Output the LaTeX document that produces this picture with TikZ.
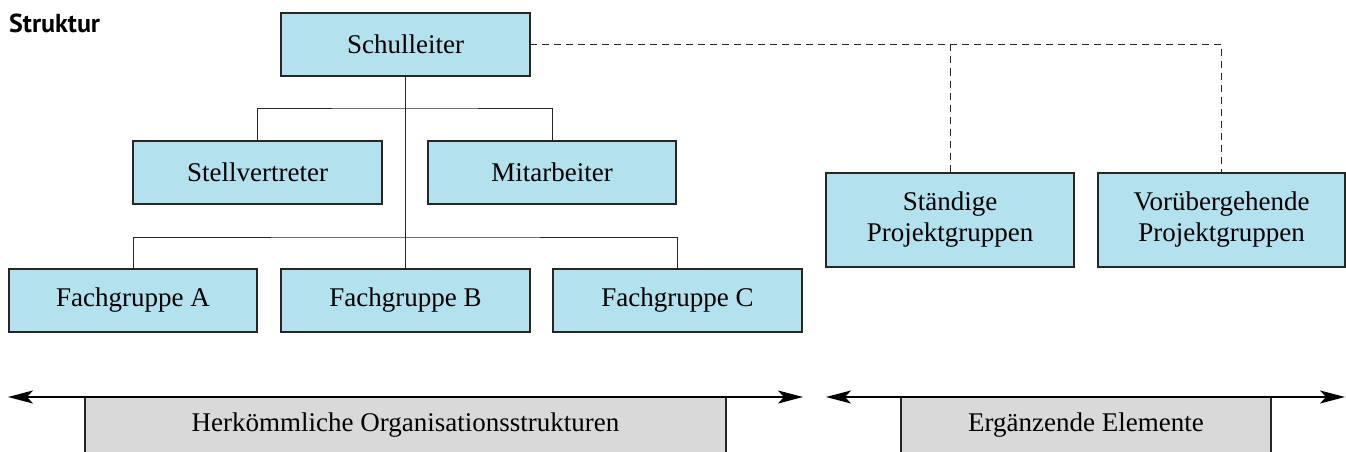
\documentclass[tikz,border=0pt]{standalone}
\usepackage{fontspec}
\setmainfont{Liberation Serif}
\newfontfamily\headfont{PT Sans}
\usetikzlibrary{arrows.meta}
\definecolor{boxblue}{HTML}{B3E2EE}
\definecolor{boxgray}{HTML}{D9D9D9}
\tikzset{
  orgbox/.style={draw=black!85, line width=1.2pt, fill=boxblue, inner sep=0pt, outer sep=0pt,
    minimum width=248pt, minimum height=63pt, align=center, font=\fontsize{27}{31}\selectfont},
  tallbox/.style={orgbox, minimum height=94pt},
  graybox/.style={draw=black!85, line width=1.2pt, fill=boxgray},
  conn/.style={draw=black!85, line width=1pt},
  dconn/.style={draw=black!85, line width=1pt, dash pattern=on 7pt off 5pt},
  span/.style={line width=1.3pt, {Stealth[length=25pt,width=13pt,inset=6pt]}-{Stealth[length=25pt,width=13pt,inset=6pt]}},
  graylabel/.style={font=\fontsize{27}{31}\selectfont, inner sep=0pt}
}
\begin{document}
\begin{tikzpicture}[x=1pt,y=-1pt]
\useasboundingbox (0,0) rectangle (1346,452);
\clip (0,0) rectangle (1346,452);
\node[anchor=base west, inner sep=0pt, font=\headfont\bfseries\fontsize{26}{30}\selectfont] (title) at (9,33) {Struktur};

\node[orgbox, minimum width=249pt] (schul) at (405.5,44.5) {Schulleiter};
\node[orgbox, minimum width=249pt] (stell) at (257.5,172.5) {Stellvertreter};
\node[orgbox] (mitar) at (552,172.5) {Mitarbeiter};
\node[orgbox] (fa) at (133,300.5) {Fachgruppe A};
\node[orgbox, minimum width=249pt] (fb) at (405.5,300.5) {Fachgruppe B};
\node[orgbox, minimum width=249pt] (fc) at (677.5,300.5) {Fachgruppe C};
\node[tallbox] (staen) at (950,220) {Ständige\\Projektgruppen};
\node[tallbox, minimum width=247pt] (vor) at (1221.5,220) {Vorübergehende\\Projektgruppen};

% solid connectors
\coordinate (b1) at (405.5,108);
\coordinate (b2) at (405.5,237);
\draw[conn] (schul.south) -- (fb.north);
\draw[conn] (stell.north) |- (b1) -| (mitar.north);
\draw[conn] (fa.north) |- (b2) -| (fc.north);

% dashed connectors
\coordinate (d1) at (950,44.5);
\draw[dconn] (schul.east) -| (vor.north);
\draw[dconn] (d1) -- (staen.north);

% bottom spans
\coordinate (l1) at (8,397);
\coordinate (r1) at (803,397);
\coordinate (l2) at (826,397);
\coordinate (r2) at (1345,397);
\draw[graybox] (85,397) rectangle (726,470);
\draw[graybox] (901,397) rectangle (1271,470);
\node[graylabel] (herk) at (405.5,425) {Herkömmliche Organisationsstrukturen};
\node[graylabel] (erg) at (1086,425) {Ergänzende Elemente};
\draw[span] (l1) -- (r1);
\draw[span] (l2) -- (r2);
\end{tikzpicture}
\end{document}
